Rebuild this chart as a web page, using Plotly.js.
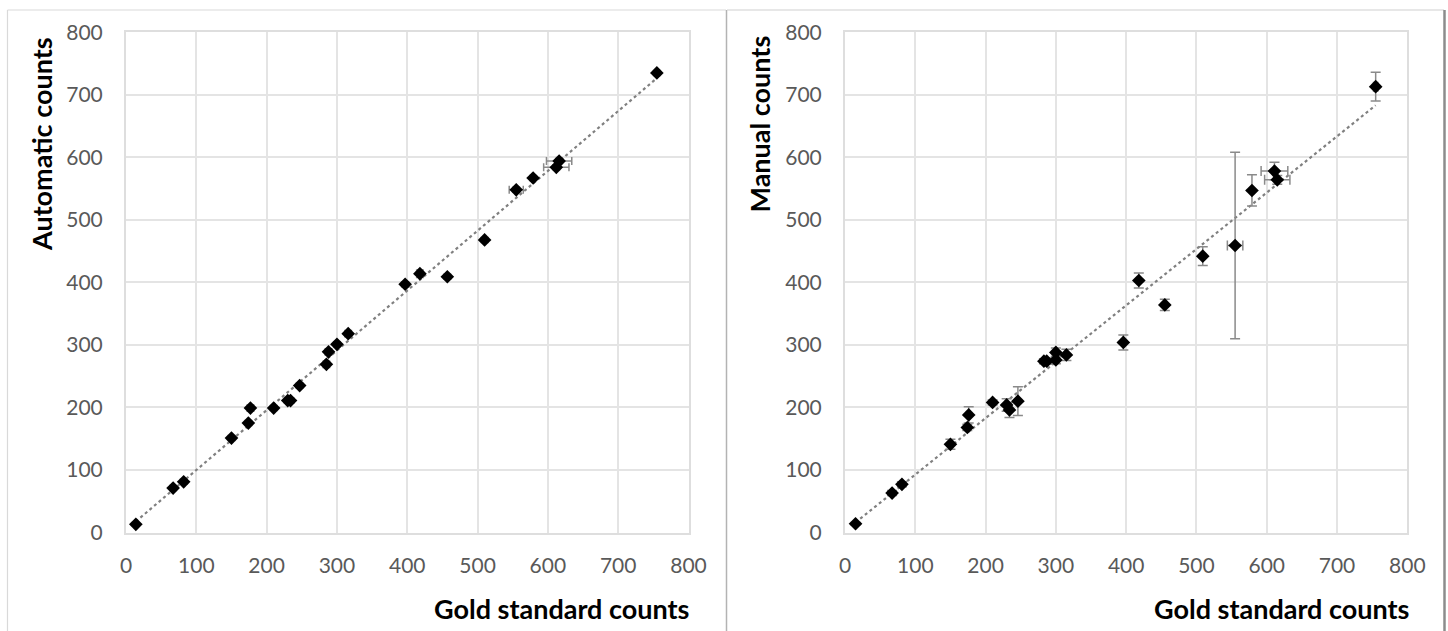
<!DOCTYPE html>
<html>
<head>
<meta charset="utf-8">
<script src="https://cdn.plot.ly/plotly-3.0.1.min.js"></script>
<style>html,body{margin:0;padding:0;background:#fff;}#chart{width:1448px;height:631px;}</style>
</head>
<body>
<div id="chart"></div>
<script>
// ---- Data: Automatic vs gold standard ----
const goldA   = [14, 67, 82, 150, 174, 177, 210, 230, 234, 247, 285, 288, 300, 316, 397, 418, 457, 510, 555, 579, 612, 616, 755];
const autoY   = [13, 71, 81, 151, 175, 199, 199, 211, 211, 235, 269, 289, 301, 318, 397, 414, 409, 468, 548, 567, 584, 594, 735];
const autoErrY= [3, 4, 4, 4, 4, 5, 4, 4, 4, 4, 5, 5, 4, 5, 4, 6, 4, 4, 4, 4, 4, 4, 4];
const goldAErr= [0, 0, 0, 0, 0, 0, 0, 0, 0, 0, 0, 0, 0, 0, 0, 0, 0, 0, 10, 3, 18, 18, 3];

// ---- Data: Manual vs gold standard ----
const goldM   = [15, 67, 81, 150, 174, 176, 210, 230, 234, 246, 283, 287, 300, 300, 315, 396, 418, 455, 509, 555, 579, 611, 615, 755];
const manualY = [14, 63, 77, 141, 168, 188, 208, 204, 196, 210, 274, 274, 288, 276, 284, 304, 403, 364, 442, 459, 547, 578, 564, 713];
const manErrY = [2, 4, 4, 8, 5, 13, 4, 10, 12, 23, 4, 5, 7, 6, 9, 12, 12, 9, 15, 149, 25, 14, 7, 23];
const goldMErr= [0, 0, 0, 0, 0, 0, 0, 0, 0, 0, 0, 0, 0, 0, 0, 0, 0, 0, 0, 11, 0, 19, 18, 3];

const tickVals = [0, 100, 200, 300, 400, 500, 600, 700, 800];

function fit(x, y) {
  const n = x.length;
  const mx = x.reduce((a, b) => a + b, 0) / n;
  const my = y.reduce((a, b) => a + b, 0) / n;
  let sxy = 0, sxx = 0;
  for (let i = 0; i < n; i++) { sxy += (x[i] - mx) * (y[i] - my); sxx += (x[i] - mx) ** 2; }
  const b = sxy / sxx, a = my - b * mx;
  const x0 = Math.min(...x), x1 = Math.max(...x);
  return { x: [x0, x1], y: [a + b * x0, a + b * x1] };
}

const fA = fit(goldA, autoY);
const fM = fit(goldM, manualY);
const errColor = '#8a8a8a';
const trendStyle = { color: '#808080', width: 2.2, dash: 'dot' };
const markerStyle = { symbol: 'diamond', size: 10.5, color: '#000000' };

const traces = [
  { x: fA.x, y: fA.y, mode: 'lines', line: trendStyle, xaxis: 'x', yaxis: 'y', hoverinfo: 'skip' },
  { x: goldA, y: autoY, mode: 'markers', marker: markerStyle, xaxis: 'x', yaxis: 'y',
    error_y: { type: 'data', array: autoErrY, color: errColor, thickness: 1.5, width: 4 },
    error_x: { type: 'data', array: goldAErr, color: errColor, thickness: 1.5, width: 4 } },
  { x: fM.x, y: fM.y, mode: 'lines', line: trendStyle, xaxis: 'x2', yaxis: 'y2', hoverinfo: 'skip' },
  { x: goldM, y: manualY, mode: 'markers', marker: markerStyle, xaxis: 'x2', yaxis: 'y2',
    error_y: { type: 'data', array: manErrY, color: errColor, thickness: 1.5, width: 5 },
    error_x: { type: 'data', array: goldMErr, color: errColor, thickness: 1.5, width: 5 } }
];

const W = 1448, H = 631;
const px = v => v / W, py = v => 1 - v / H;
const tickFont = { family: 'Lato, "Open Sans", sans-serif', size: 21, color: '#595959' };
const axisBase = {
  range: [0, 800], tickvals: tickVals, ticktext: tickVals.map(String),
  showgrid: true, gridcolor: '#e4e4e4', gridwidth: 2,
  showline: true, linecolor: '#dedede', linewidth: 2, mirror: true,
  zeroline: false, ticks: '', tickfont: tickFont, fixedrange: true
};
const xb = Object.assign({}, axisBase, { ticklabelstandoff: 13 });
const yb = Object.assign({}, axisBase, { ticklabelstandoff: 17 });
const yDom = [py(532.5), py(32.3)];

const titleFont = { family: 'Lato, "Open Sans", sans-serif', size: 27, color: '#000000', weight: 'bold' };

const layout = {
  width: W, height: H,
  margin: { l: 0, r: 0, t: 0, b: 0 },
  paper_bgcolor: '#ffffff', plot_bgcolor: '#ffffff',
  showlegend: false,
  xaxis: Object.assign({}, xb, { domain: [px(126), px(688.5)], anchor: 'y' }),
  yaxis: Object.assign({}, yb, { domain: yDom, anchor: 'x' }),
  xaxis2: Object.assign({}, xb, { domain: [px(845), px(1407.3)], anchor: 'y2' }),
  yaxis2: Object.assign({}, yb, { domain: yDom, anchor: 'x2' }),
  annotations: [
    { text: '<b>Gold standard counts</b>', xref: 'paper', yref: 'paper', x: px(691), y: py(608), xanchor: 'right', yanchor: 'middle', showarrow: false, font: titleFont },
    { text: '<b>Gold standard counts</b>', xref: 'paper', yref: 'paper', x: px(1411), y: py(608), xanchor: 'right', yanchor: 'middle', showarrow: false, font: titleFont },
    { text: '<b>Automatic counts</b>', xref: 'paper', yref: 'paper', x: px(41), y: py(35), xanchor: 'center', yanchor: 'top', textangle: -90, showarrow: false, font: titleFont },
    { text: '<b>Manual counts</b>', xref: 'paper', yref: 'paper', x: px(759), y: py(33), xanchor: 'center', yanchor: 'top', textangle: -90, showarrow: false, font: titleFont }
  ],
  shapes: [
    { type: 'line', xref: 'paper', yref: 'paper', x0: px(7.5), x1: px(726), y0: py(10), y1: py(10), line: { color: '#d9d9d9', width: 1.2 } },
    { type: 'line', xref: 'paper', yref: 'paper', x0: px(7.5), x1: px(7.5), y0: py(10), y1: 0, line: { color: '#d9d9d9', width: 1.2 } },
    { type: 'line', xref: 'paper', yref: 'paper', x0: px(726.5), x1: px(726.5), y0: py(10), y1: 0, line: { color: '#b3b3b3', width: 1.5 } },
    { type: 'line', xref: 'paper', yref: 'paper', x0: px(727), x1: px(1444), y0: py(10), y1: py(10), line: { color: '#d0d0d0', width: 1.2 } },
    { type: 'line', xref: 'paper', yref: 'paper', x0: px(1444.5), x1: px(1444.5), y0: py(10), y1: 0, line: { color: '#8c8c8c', width: 2.5 } }
  ]
};

Plotly.newPlot('chart', traces, layout, { displayModeBar: false, staticPlot: true });
</script>
</body>
</html>
